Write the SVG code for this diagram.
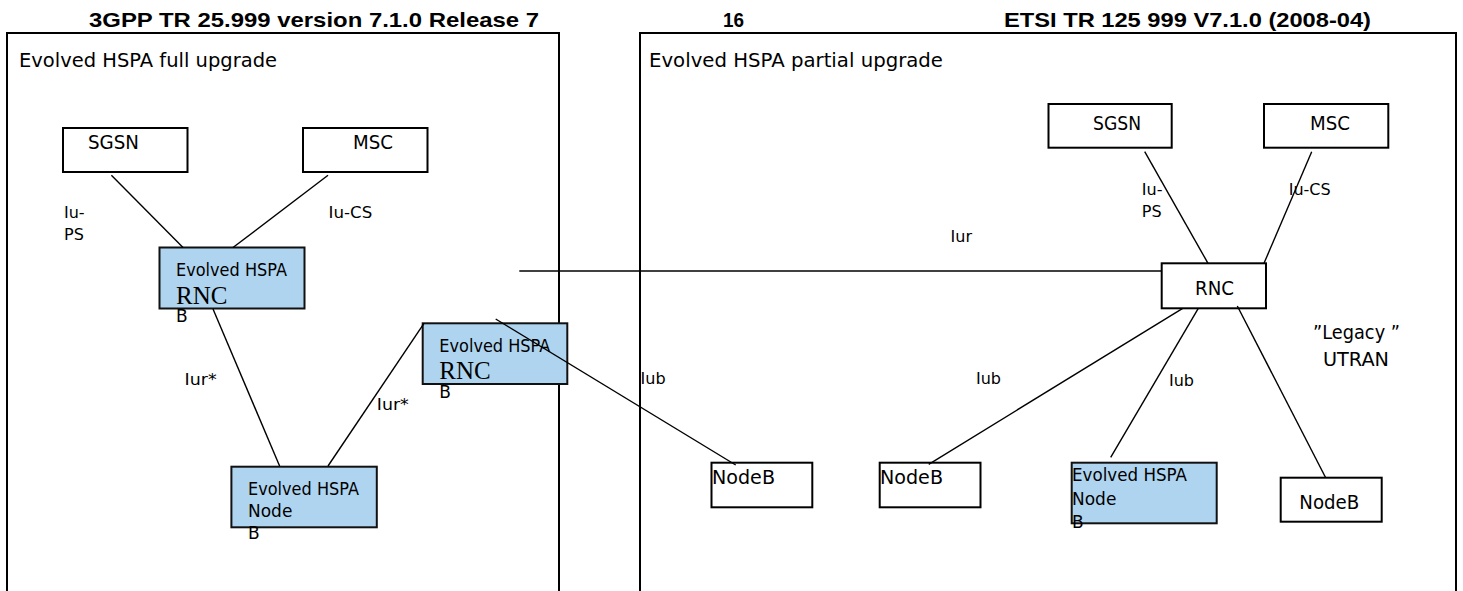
<svg xmlns="http://www.w3.org/2000/svg" width="1463" height="591" viewBox="0 0 1463 591">
<style>
.frame{fill:none;stroke:#000;stroke-width:2}
.box{fill:#fff;stroke:#000;stroke-width:2}
.blue{fill:#AFD4EF;stroke:#111;stroke-width:2}
.ln{stroke:#000;stroke-width:1.4;fill:none}
.hdr{font-family:"Liberation Sans",Arial,sans-serif;font-weight:bold;font-size:21px;fill:#000}
.t{font-family:"DejaVu Sans",Verdana,sans-serif;fill:#000}
.title{font-size:20px}
.nm{font-size:20px}
.lb{font-size:16px}
.ev{font-size:17px}
.rnc{font-family:"Liberation Serif","Times New Roman",serif;font-size:25px;fill:#000}
</style>
<rect width="1463" height="591" fill="#fff"/>
<g id="header">
<text class="hdr" x="89" y="27" textLength="450" lengthAdjust="spacingAndGlyphs">3GPP TR 25.999 version 7.1.0 Release 7</text>
<text class="hdr" x="723" y="27" textLength="21" lengthAdjust="spacingAndGlyphs">16</text>
<text class="hdr" x="1004" y="27" textLength="367" lengthAdjust="spacingAndGlyphs">ETSI TR 125 999 V7.1.0 (2008-04)</text>
</g>
<g id="frame-full">
<path class="frame" d="M7,591 V33 H559 V591"/>
<text class="t title" x="19" y="67" textLength="258" lengthAdjust="spacingAndGlyphs">Evolved  HSPA full upgrade</text>
</g>
<g id="frame-partial">
<path class="frame" d="M640,591 V33 H1456 V591"/>
<text class="t title" x="649" y="67" textLength="294" lengthAdjust="spacingAndGlyphs">Evolved  HSPA partial upgrade</text>
</g>
<g id="sgsn-left">
<rect class="box" x="63" y="128" width="124.5" height="44"/>
<text class="t nm" x="88" y="149" textLength="51" lengthAdjust="spacingAndGlyphs">SGSN</text>
</g>
<g id="msc-left">
<rect class="box" x="303" y="128" width="124.5" height="44"/>
<text class="t nm" x="353" y="149" textLength="40" lengthAdjust="spacingAndGlyphs">MSC</text>
</g>
<g id="rnc-evolved-left">
<rect class="blue" x="159.5" y="247.5" width="145" height="61"/>
<text class="t ev" x="176" y="276" textLength="111" lengthAdjust="spacingAndGlyphs">Evolved HSPA</text>
<text class="rnc" x="176" y="304.3">RNC</text>
<text class="t ev" x="176" y="322" font-size="16">B</text>
</g>
<g id="rnc-evolved-mid">
<rect class="blue" x="422.7" y="323.3" width="144.6" height="60.7"/>
<text class="t ev" x="439.3" y="352" textLength="111" lengthAdjust="spacingAndGlyphs">Evolved HSPA</text>
<text class="rnc" x="439.3" y="379.3">RNC</text>
<text class="t ev" x="439.3" y="397.5" font-size="16">B</text>
</g>
<g id="nodeb-evolved-left">
<rect class="blue" x="231.4" y="466.7" width="145.4" height="60.6"/>
<text class="t ev" x="248" y="495" textLength="111" lengthAdjust="spacingAndGlyphs">Evolved HSPA</text>
<text class="t ev" x="248" y="517">Node</text>
<text class="t ev" x="248" y="538.5" font-size="16">B</text>
</g>
<g id="sgsn-right">
<rect class="box" x="1048.5" y="104" width="123.2" height="43.7"/>
<text class="t nm" x="1093" y="130" textLength="48" lengthAdjust="spacingAndGlyphs">SGSN</text>
</g>
<g id="msc-right">
<rect class="box" x="1264" y="104" width="124.3" height="43.7"/>
<text class="t nm" x="1310" y="130" textLength="40" lengthAdjust="spacingAndGlyphs">MSC</text>
</g>
<g id="rnc-right">
<rect class="box" x="1161.7" y="263.3" width="104.3" height="45"/>
<text class="t nm" x="1195" y="295" textLength="39" lengthAdjust="spacingAndGlyphs">RNC</text>
</g>
<g id="nodeb-1">
<rect class="box" x="711.5" y="462.7" width="100.8" height="44.6"/>
<text class="t nm" x="712" y="484" textLength="63" lengthAdjust="spacingAndGlyphs">NodeB</text>
</g>
<g id="nodeb-2">
<rect class="box" x="879.7" y="462.7" width="100.8" height="44.6"/>
<text class="t nm" x="880" y="484" textLength="63" lengthAdjust="spacingAndGlyphs">NodeB</text>
</g>
<g id="nodeb-evolved-right">
<rect class="blue" x="1071.7" y="462.7" width="145" height="60.6"/>
<text class="t ev" x="1072" y="481" textLength="115" lengthAdjust="spacingAndGlyphs">Evolved  HSPA</text>
<text class="t ev" x="1072" y="505">Node</text>
<text class="t ev" x="1072" y="527.5" font-size="16">B</text>
</g>
<g id="nodeb-4">
<rect class="box" x="1280.7" y="477.7" width="101" height="44"/>
<text class="t nm" x="1299.3" y="509.3" textLength="60" lengthAdjust="spacingAndGlyphs">NodeB</text>
</g>
<g id="connectors">
<line class="ln" x1="111.4" y1="175.3" x2="183" y2="247.5"/>
<line class="ln" x1="328" y1="175.3" x2="233" y2="247.5"/>
<line class="ln" x1="213" y1="309" x2="279.6" y2="466"/>
<line class="ln" x1="328" y1="466" x2="424" y2="323.3"/>
<line class="ln" x1="519.3" y1="271" x2="1161" y2="271"/>
<line class="ln" x1="495.7" y1="319" x2="735.7" y2="465"/>
<line class="ln" x1="1144.7" y1="151.7" x2="1208" y2="263.3"/>
<line class="ln" x1="1311.7" y1="151.7" x2="1264" y2="263.3"/>
<line class="ln" x1="928.7" y1="464.3" x2="1182.7" y2="308.3"/>
<line class="ln" x1="1110.7" y1="457.3" x2="1198.3" y2="308.3"/>
<line class="ln" x1="1325.7" y1="477.7" x2="1237.3" y2="306"/>
</g>
<g id="labels">
<text class="t lb" x="64" y="218">Iu-</text>
<text class="t lb" x="64" y="240">PS</text>
<text class="t lb" x="328.6" y="218" textLength="43.6" lengthAdjust="spacingAndGlyphs">Iu-CS</text>
<text class="t lb" x="184.6" y="385" textLength="32" lengthAdjust="spacingAndGlyphs">Iur*</text>
<text class="t lb" x="376.8" y="410" textLength="32" lengthAdjust="spacingAndGlyphs">Iur*</text>
<text class="t lb" x="950.6" y="242">Iur</text>
<text class="t lb" x="1141.8" y="195">Iu-</text>
<text class="t lb" x="1141.8" y="217">PS</text>
<text class="t lb" x="1288.7" y="195">Iu-CS</text>
<text class="t lb" x="640.6" y="384">Iub</text>
<text class="t lb" x="976" y="384">Iub</text>
<text class="t lb" x="1169" y="386">Iub</text>
<text class="t nm" x="1313" y="339" textLength="87" lengthAdjust="spacingAndGlyphs">”Legacy ”</text>
<text class="t nm" x="1323" y="366" textLength="66" lengthAdjust="spacingAndGlyphs">UTRAN</text>
</g>
</svg>
